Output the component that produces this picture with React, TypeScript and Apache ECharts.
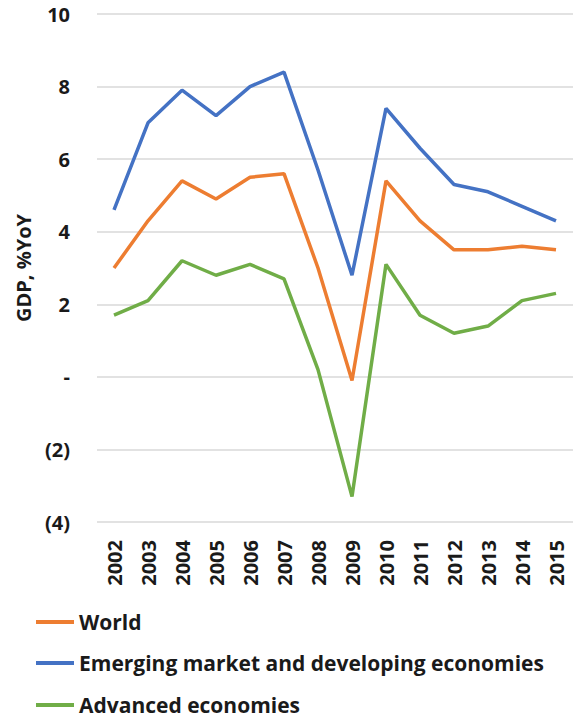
import React, { useEffect, useRef } from "react";
import * as echarts from "echarts";

const years = ["2002","2003","2004","2005","2006","2007","2008","2009","2010","2011","2012","2013","2014","2015"];
const worldValues = [3.0, 4.3, 5.4, 4.9, 5.5, 5.6, 3.0, -0.1, 5.4, 4.3, 3.5, 3.5, 3.6, 3.5];
const emergingValues = [4.6, 7.0, 7.9, 7.2, 8.0, 8.4, 5.7, 2.8, 7.4, 6.3, 5.3, 5.1, 4.7, 4.3];
const advancedValues = [1.7, 2.1, 3.2, 2.8, 3.1, 2.7, 0.2, -3.3, 3.1, 1.7, 1.2, 1.4, 2.1, 2.3];
const seriesNames = ["World", "Emerging market and developing economies", "Advanced economies"];
const colors = ["#ED7D31", "#4472C4", "#70AD47"];

const FONT = "'Open Sans', sans-serif";
const TEXT = "#1a1a1a";

export default function App() {
  const ref = useRef<HTMLDivElement>(null);
  useEffect(() => {
    if (!ref.current) return;
    const chart = echarts.init(ref.current, null, { renderer: "svg" });
    const data = [worldValues, emergingValues, advancedValues];
    const legendTops = [610, 651, 693];
    chart.setOption({
      animation: false,
      backgroundColor: "#ffffff",
      grid: { left: 97, right: 2, top: 14, bottom: 197, containLabel: false },
      legend: seriesNames.map((name, i) => ({
        orient: "vertical",
        left: 36,
        top: legendTops[i],
        padding: 0,
        itemWidth: 38,
        itemHeight: 4,
        icon: "rect",
        data: [name],
        textStyle: { fontFamily: FONT, fontWeight: "bold", fontSize: 21, color: TEXT, lineHeight: 24 },
      })),
      xAxis: {
        type: "category",
        data: years,
        boundaryGap: true,
        axisLine: { show: false },
        axisTick: { show: false },
        axisLabel: {
          rotate: 90,
          margin: 18,
          fontFamily: FONT,
          fontWeight: "bold",
          fontSize: 20,
          color: TEXT,
          interval: 0,
        },
      },
      yAxis: {
        type: "value",
        min: -4,
        max: 10,
        interval: 2,
        name: "GDP, %YoY",
        nameLocation: "middle",
        nameGap: 64,
        nameTextStyle: { fontFamily: FONT, fontWeight: "bold", fontSize: 20, color: TEXT },
        axisLine: { show: false },
        axisTick: { show: false },
        splitLine: { lineStyle: { color: "#D9D9D9", width: 1.5 } },
        axisLabel: {
          margin: 27,
          fontFamily: FONT,
          fontWeight: "bold",
          fontSize: 20,
          color: TEXT,
          formatter: (v: number) => (v === 0 ? "-" : v < 0 ? `(${Math.abs(v)})` : `${v}`),
        },
      },
      series: seriesNames.map((name, i) => ({
        name,
        type: "line",
        data: data[i],
        symbol: "none",
        lineStyle: { width: 3.5, color: colors[i] },
        itemStyle: { color: colors[i] },
      })),
    });
    return () => chart.dispose();
  }, []);
  return <div ref={ref} style={{ width: 575, height: 719, position: "absolute", left: 0, top: 0 }} />;
}
